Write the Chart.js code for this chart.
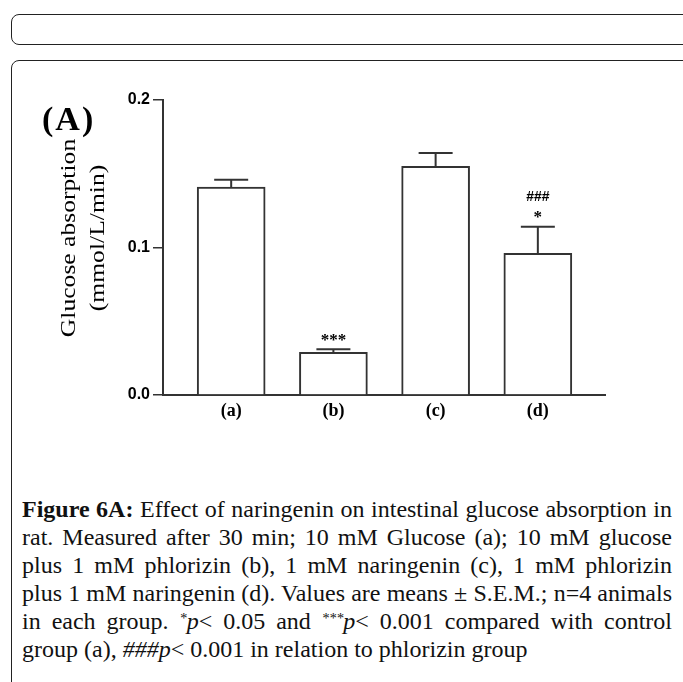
<!DOCTYPE html>
<html>
<head>
<meta charset="utf-8">
<script src="https://cdn.jsdelivr.net/npm/chart.js@4.4.0/dist/chart.umd.min.js"></script>
<style>
  html, body { margin: 0; padding: 0; background: #fff; }
  body { width: 683px; height: 682px; position: relative; overflow: hidden; }
  .box { position: absolute; left: 11px; width: 720px; border: 1.5px solid #222; border-radius: 8px; }
  .box-top { top: 14px; height: 29px; }
  .box-main { top: 60px; height: 700px; }
  .chart-wrap { position: absolute; left: 0; top: 0; width: 683px; height: 440px; }
  .panel { position: absolute; left: 42px; top: 100px; font: bold 34px "Liberation Serif", serif; letter-spacing: 2px; color: #000; }
  .caption { position: absolute; left: 22px; top: 495px; width: 650px; font: 24px/28px "Liberation Serif", serif; color: #111; }
  .caption span { display: block; height: 28px; white-space: nowrap; text-align: justify; text-align-last: justify; }
  .caption span.last { text-align-last: left; }
  .caption sup { font-size: 60%; line-height: 0; vertical-align: 6px; }
</style>
</head>
<body>
<div class="box box-top"></div>
<div class="box box-main"></div>
<div class="chart-wrap"><canvas id="glucoseChart" width="683" height="440"></canvas></div>
<div class="panel">(A)</div>
<div class="caption">
  <span><b>Figure 6A:</b> Effect of naringenin on intestinal glucose absorption in</span>
  <span>rat. Measured after 30 min; 10 mM Glucose (a); 10 mM glucose</span>
  <span>plus 1 mM phlorizin (b), 1 mM naringenin (c), 1 mM phlorizin</span>
  <span>plus 1 mM naringenin (d). Values are means ± S.E.M.; n=4 animals</span>
  <span>in each group. <i><sup>*</sup>p</i>&lt; 0.05 and <i><sup>***</sup>p</i>&lt; 0.001 compared with control</span>
  <span class="last">group (a), <i>###p</i>&lt; 0.001 in relation to phlorizin group</span>
</div>
<script>
// datos
const categories = ['(a)', '(b)', '(c)', '(d)'];
const means = [0.141, 0.029, 0.155, 0.096];
const sem = [0.005, 0.002, 0.009, 0.018];
const starMarks = ['', '***', '', '*'];
const hashMarks = ['', '', '', '###'];
const yTicks = [0, 0.1, 0.2];

const lineColor = '#333';

// barras de error y marcas de significancia
const errorBars = {
    id: 'errorBars',
    afterDatasetsDraw(chart) {
        const ctx = chart.ctx;
        const x = chart.scales.x;
        const y = chart.scales.y;
        ctx.save();
        ctx.strokeStyle = lineColor;
        ctx.lineWidth = 2;
        means.forEach((m, i) => {
            const px = x.getPixelForValue(i);
            const top = y.getPixelForValue(m + sem[i]);
            const bar = y.getPixelForValue(m);
            ctx.beginPath();
            ctx.moveTo(px, bar);
            ctx.lineTo(px, top);
            ctx.moveTo(px - 17, top);
            ctx.lineTo(px + 17, top);
            ctx.stroke();
            ctx.fillStyle = '#000';
            ctx.textAlign = 'center';
            ctx.textBaseline = 'middle';
            if (starMarks[i]) {
                ctx.font = 'bold 17px "Liberation Serif", serif';
                ctx.fillText(starMarks[i], px, top - 9);
            }
            if (hashMarks[i]) {
                ctx.font = 'bold 14px "Liberation Sans", Arial, sans-serif';
                ctx.fillText(hashMarks[i], px, top - 30);
            }
        });
        ctx.restore();
    }
};

// titulo del eje Y en dos lineas
const yTitle = {
    id: 'yTitle',
    afterDraw(chart) {
        const ctx = chart.ctx;
        const cy = 238;
        ctx.save();
        ctx.fillStyle = '#000';
        ctx.font = '20px "Liberation Serif", serif';
        ctx.textAlign = 'center';
        ctx.textBaseline = 'alphabetic';
        [['Glucose absorption', 75], ['(mmol/L/min)', 104]].forEach(([txt, bx]) => {
            ctx.save();
            ctx.translate(bx, cy);
            ctx.rotate(-Math.PI / 2);
            ctx.scale(1.28, 1);
            ctx.fillText(txt, 0, 0);
            ctx.restore();
        });
        ctx.restore();
    }
};

const ctx = document.getElementById('glucoseChart').getContext('2d');
const glucoseChart = new Chart(ctx, {
    type: 'bar',
    data: {
        datasets: [{
            data: means.map((v, i) => ({ x: i, y: v })),
            backgroundColor: '#fff',
            borderColor: lineColor,
            borderWidth: 2,
            barThickness: 68
        }]
    },
    options: {
        responsive: false,
        animation: false,
        layout: {
            padding: { left: 113, right: 78, top: 100, bottom: 15 }
        },
        plugins: {
            legend: { display: false },
            tooltip: { enabled: false }
        },
        scales: {
            x: {
                type: 'linear',
                offset: false,
                min: -0.667,
                max: 3.657,
                afterBuildTicks: s => { s.ticks = categories.map((c, i) => ({ value: i })); },
                afterFit: s => { s.height = 30; },
                ticks: {
                    callback: v => categories[v],
                    font: { family: '"Liberation Serif", serif', size: 18, weight: 'bold' },
                    color: '#000',
                    padding: 6
                },
                grid: { drawOnChartArea: false, drawTicks: false },
                border: { color: lineColor, width: 2 }
            },
            y: {
                min: 0,
                max: 0.2,
                afterBuildTicks: s => { s.ticks = yTicks.map(v => ({ value: v })); },
                afterFit: s => { s.width = 50; },
                ticks: {
                    callback: v => v.toFixed(1),
                    font: { family: '"Liberation Sans", Arial, sans-serif', size: 16, weight: 'bold' },
                    color: '#000',
                    padding: 3
                },
                grid: { drawOnChartArea: false, drawTicks: true, tickLength: 10, color: lineColor, lineWidth: 1.5 },
                border: { color: lineColor, width: 2 }
            }
        }
    },
    plugins: [errorBars, yTitle]
});
</script>
</body>
</html>
